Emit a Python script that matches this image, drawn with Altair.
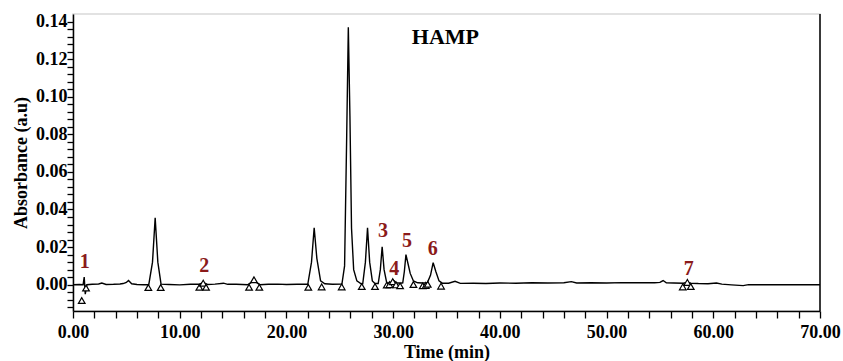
import altair as alt
import pandas as pd

# ---- chromatogram trace (time in min, absorbance in a.u.) ----
trace_time = [0.0, 0.6, 0.95, 1.05, 1.15, 1.3, 1.8, 2.4, 2.7, 3.1, 3.8, 4.4, 4.7, 5.0, 5.2, 5.5, 6.0, 6.6,
              7.1, 7.45, 7.7, 7.95, 8.25, 9.0, 10.0, 11.0, 11.8, 12.2, 12.6, 13.3, 14.1, 14.5, 15.3, 16.4,
              16.7, 16.95, 17.2, 17.5, 18.3, 19.2, 20.0, 21.0, 22.0, 22.35, 22.6, 22.85, 23.2, 23.6, 24.3,
              25.2, 25.45, 25.65, 25.8, 25.95, 26.1, 26.3, 26.6, 27.0, 27.15, 27.4, 27.6, 27.8, 28.05, 28.3,
              28.6, 28.8, 28.97, 29.15, 29.4, 29.7, 30.0, 30.3, 30.7, 30.9, 31.05, 31.2, 31.4, 31.6, 31.9,
              32.3, 32.8, 33.2, 33.5, 33.75, 34.0, 34.3, 34.6, 35.2, 35.8, 36.3, 37.5, 38.7, 40.0, 41.5,
              43.0, 44.5, 46.0, 46.7, 47.2, 48.5, 50.0, 51.5, 53.0, 54.5, 55.0, 55.3, 55.6, 56.3, 57.2,
              57.55, 57.9, 58.6, 59.5, 60.3, 60.8, 61.7, 62.8, 63.3, 65.0, 70.0]
trace_abs = [0.0, 0.0001, 0.0, 0.004, -0.005, 0.0, 0.0002, 0.0004, 0.0009, 0.0001, 0.0002, 0.0004, 0.0006, 0.0012, 0.0022, 0.0005, 0.0001, 0.0,
             0.0, 0.012, 0.0356, 0.012, 0.0003, 0.0001, -0.0001, 0.0002, 0.0002, 0.0011, 0.0001, 0.0003, 0.0008, 0.0002, 0.0002, 0.0,
             0.0012, 0.0031, 0.0012, 0.0, 0.0002, 0.0003, 0.0001, 0.0002, 0.0002, 0.012, 0.0303, 0.014, 0.002, 0.0005, 0.0002,
             0.0003, 0.01, 0.08, 0.137, 0.09, 0.03, 0.008, 0.002, 0.0005, 0.0005, 0.012, 0.0303, 0.012, 0.002, 0.0006,
             0.0006, 0.008, 0.0202, 0.008, 0.001, 0.0008, 0.0025, 0.001, 0.0008, 0.001, 0.007, 0.016, 0.011, 0.006, 0.002,
             0.001, 0.0009, 0.001, 0.005, 0.0117, 0.007, 0.002, 0.0008, 0.0008, 0.0018, 0.0007, 0.0008, 0.0006, 0.0009, 0.0008,
             0.001, 0.0009, 0.001, 0.0016, 0.0009, 0.001, 0.0009, 0.0011, 0.001, 0.001, 0.0012, 0.0022, 0.001, 0.0009, 0.0008,
             0.0013, 0.0008, 0.0006, 0.0005, 0.0009, 0.0003, -0.0001, -0.0005, 0.0, 0.0, 0.0]

# ---- integration markers (open triangles) ----
marker_time = [0.82, 1.22, 7.06, 8.22, 11.84, 12.2, 12.47, 16.5, 16.96, 17.46, 22.05, 23.3, 25.18, 27.06,
               28.3, 29.4, 29.65, 29.96, 30.27, 30.65, 31.9, 32.77, 33.05, 33.24, 34.49, 57.14, 57.57, 57.89]
marker_abs = [-0.0084, -0.0018, -0.0015, -0.0015, -0.0014, 0.0008, -0.0014, -0.0014, 0.0026, -0.0014, -0.0014, -0.0012,
              -0.0012, -0.0010, -0.0010, -0.0002, 0.0000, 0.0016, -0.0001, -0.0006, 0.0001, -0.0006, -0.0004, 0.0002,
              -0.0008, -0.0012, 0.0012, -0.0010]

# ---- peak numbers ----
label_text = ["1", "2", "3", "4", "5", "6", "7"]
label_time = [1.1, 12.3, 29.05, 30.1, 31.3, 33.7, 57.7]
label_abs = [0.0120, 0.0100, 0.0287, 0.0085, 0.0234, 0.0190, 0.0085]

x_ticks = [float(v) for v in range(0, 72, 2)]
y_ticks = [round(-0.012 + 0.004 * i, 3) for i in range(39)]

FONT = "Liberation Serif"

trace = pd.DataFrame({"t": trace_time, "a": trace_abs})
markers = pd.DataFrame({"t": marker_time, "a": marker_abs})
labels = pd.DataFrame({"t": label_time, "a": label_abs, "txt": label_text})
title_df = pd.DataFrame({"t": [34.9], "a": [0.1315], "txt": ["HAMP"]})

xscale = alt.Scale(domain=[0, 70], nice=False, zero=False)
yscale = alt.Scale(domain=[-0.014, 0.144], nice=False, zero=False)

xaxis = alt.Axis(
    values=x_ticks,
    labelExpr="datum.value % 10 == 0 ? format(datum.value, '.2f') : ''",
    title="Time (min)", grid=False, tickSize=7, tickColor="black", tickWidth=1.3,
    domainColor="black", domainWidth=1.5, labelFont=FONT, labelFontSize=18,
    labelFontWeight="bold", labelColor="black", labelOverlap=False, labelFlush=False,
    labelBound=False, labelPadding=5, titleFont=FONT, titleFontSize=18, titleFontWeight="bold",
    titleColor="black", titlePadding=2,
)
yaxis = alt.Axis(
    values=y_ticks,
    labelExpr="abs(datum.value * 50 - round(datum.value * 50)) < 0.001 ? format(datum.value, '.2f') : ''",
    title="Absorbance (a.u)", grid=False, tickSize=6, tickColor="black", tickWidth=1.3,
    domainColor="black", domainWidth=1.5, labelFont=FONT, labelFontSize=18,
    labelFontWeight="bold", labelColor="black", labelOverlap=False, labelFlush=False,
    labelBound=False, labelPadding=0, titleFont=FONT, titleFontSize=18, titleFontWeight="bold",
    titleColor="black", titlePadding=5,
)

X = alt.X("t:Q", scale=xscale, axis=xaxis)
Y = alt.Y("a:Q", scale=yscale, axis=yaxis)

line = alt.Chart(trace).mark_line(color="black", strokeWidth=1.4, clip=True).encode(x=X, y=Y)

pts = alt.Chart(markers).mark_point(
    shape="triangle-up", filled=True, fill="white", stroke="black", strokeWidth=1.2, size=44, opacity=1
).encode(x=X, y=Y)

nums = alt.Chart(labels).mark_text(
    font=FONT, fontSize=20, fontWeight="bold", color="#8B1A1A"
).encode(x=X, y=Y, text="txt:N")

ttl = alt.Chart(title_df).mark_text(
    font=FONT, fontSize=22, fontWeight="bold", color="black"
).encode(x=X, y=Y, text="txt:N")

right = alt.Chart(pd.DataFrame({"t": [70.0]})).mark_rule(color="black", strokeWidth=1.5).encode(x=X)

chart = alt.layer(line, pts, nums, ttl, right).properties(
    width=747, height=297,
    autosize=alt.AutoSizeParams(type="none"),
    padding={"left": 73, "top": 14, "right": 23, "bottom": 50},
    background="white",
).configure_view(stroke="#d9d9d9", strokeWidth=1.5)

chart.save("out.html", embed_options={"renderer": "svg", "actions": False})
